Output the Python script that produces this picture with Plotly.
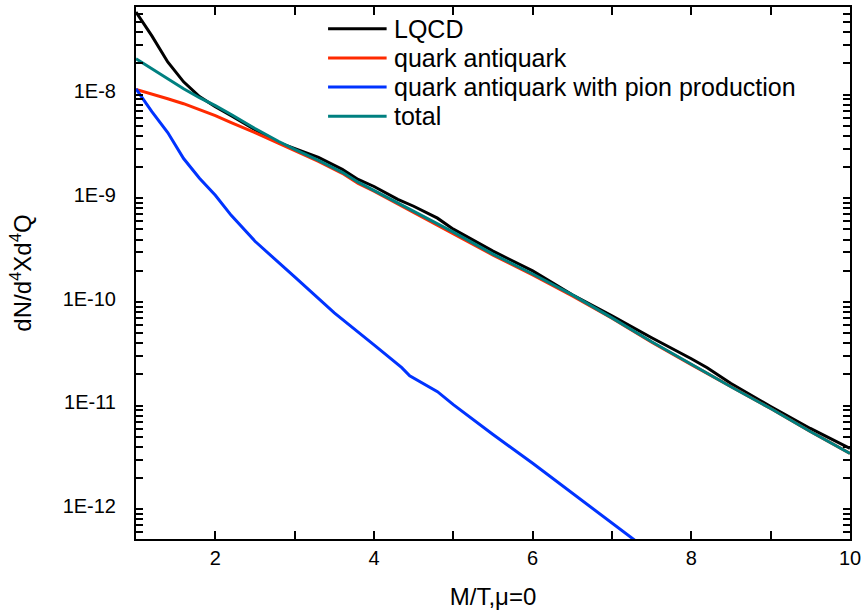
import plotly.graph_objects as go

# ---- data ----
x_lqcd = [1.0, 1.2, 1.4, 1.6, 1.8, 2.0, 2.2, 2.5, 2.8, 3.0, 3.3, 3.6, 3.8, 4.0, 4.3, 4.5,
          4.8, 5.0, 5.5, 6.0, 6.5, 7.0, 7.5, 8.0, 8.2, 8.5, 9.0, 9.5, 10.0]
y_lqcd = [6.28e-8, 3.69e-8, 2.07e-8, 1.33e-8, 9.57e-9, 7.66e-9, 6.28e-9, 4.60e-9, 3.45e-9,
          3.03e-9, 2.48e-9, 1.90e-9, 1.52e-9, 1.30e-9, 9.77e-10, 8.38e-10, 6.43e-10, 5.04e-10,
          3.09e-10, 1.99e-10, 1.17e-10, 7.33e-11, 4.51e-11, 2.83e-11, 2.32e-11, 1.63e-11,
          9.77e-12, 6.01e-12, 3.86e-12]

x_model = [1.0, 1.2, 1.4, 1.6, 1.8, 2.0, 2.2, 2.5, 2.8, 3.0, 3.3, 3.6, 3.8, 4.0, 4.5, 5.0,
           5.5, 6.0, 6.5, 7.0, 7.5, 8.0, 8.5, 9.0, 9.5, 10.0]
y_qq = [1.12e-8, 1.02e-8, 9.14e-9, 8.18e-9, 7.18e-9, 6.28e-9, 5.38e-9, 4.31e-9, 3.38e-9,
        2.89e-9, 2.27e-9, 1.74e-9, 1.39e-9, 1.17e-9, 7.33e-10, 4.60e-10, 2.83e-10, 1.82e-10,
        1.14e-10, 6.95e-11, 4.08e-11, 2.48e-11, 1.52e-11, 9.35e-12, 5.62e-12, 3.45e-12]
y_total = [2.22e-8, 1.78e-8, 1.43e-8, 1.14e-8, 9.35e-9, 7.83e-9, 6.43e-9, 4.71e-9, 3.53e-9,
           2.96e-9, 2.32e-9, 1.78e-9, 1.43e-9, 1.19e-9, 7.50e-10, 4.71e-10, 2.89e-10, 1.86e-10,
           1.17e-10, 7.02e-11, 4.12e-11, 2.48e-11, 1.52e-11, 9.35e-12, 5.62e-12, 3.45e-12]

x_pion = [1.0, 1.2, 1.4, 1.6, 1.8, 2.0, 2.2, 2.5, 3.0, 3.5, 4.0, 4.2, 4.35, 4.45, 4.6, 4.8,
          5.0, 5.5, 6.0, 6.5, 7.0, 7.5]
y_pion = [1.14e-8, 6.85e-9, 4.31e-9, 2.42e-9, 1.56e-9, 1.07e-9, 6.85e-10, 3.85e-10, 1.74e-10,
          7.83e-11, 3.85e-11, 2.89e-11, 2.32e-11, 1.94e-11, 1.66e-11, 1.36e-11, 1.02e-11,
          5.26e-12, 2.77e-12, 1.43e-12, 7.33e-13, 3.78e-13]

names = ["LQCD", "quark antiquark", "quark antiquark with pion production", "total"]
colors = ["#000000", "#ff2a00", "#0033ff", "#008080"]

# decade tick labels as printed in the reference (plotly's default SI text -> label)
y_default_text = ["1p", "10p", "100p", "1n", "10n"]
y_ticktext = ["1E-12", "1E-11", "1E-10", "1E-9", "1E-8"]

FONT = "Liberation Sans, Arial, sans-serif"

fig = go.Figure()
series = [(x_lqcd, y_lqcd), (x_model, y_qq), (x_pion, y_pion), (x_model, y_total)]
for (xs, ys), nm, c in zip(series, names, colors):
    fig.add_trace(go.Scatter(x=xs, y=ys, mode="lines", name=nm,
                             line=dict(color=c, width=3), showlegend=False))

# manual legend (line sample + text) in paper coordinates
leg_y0 = 0.959
leg_dy = 0.0548
for i, (nm, c) in enumerate(zip(names, colors)):
    yy = leg_y0 - i * leg_dy
    fig.add_shape(type="line", xref="paper", yref="paper",
                  x0=0.269, x1=0.351, y0=yy, y1=yy, line=dict(color=c, width=3))
    fig.add_annotation(xref="paper", yref="paper", x=0.358, y=yy, text=nm,
                       showarrow=False, xanchor="left", yanchor="middle",
                       font=dict(family=FONT, size=25, color="black"))

y_alias = {d: t for d, t in zip(y_default_text, y_ticktext)}
y_alias.update({str(k): " " for k in range(2, 10)})

fig.update_layout(
    width=866, height=614,
    margin=dict(l=136, r=13, t=5, b=75),
    paper_bgcolor="white", plot_bgcolor="white",
    font=dict(family=FONT, size=20, color="black"),
    xaxis=dict(range=[1, 10], dtick=1, tick0=0,
               ticks="inside", ticklen=8, tickwidth=2, tickcolor="black",
               showline=True, linewidth=2, linecolor="black",
               mirror="allticks", showgrid=False, zeroline=False,
               labelalias={"1": " ", "3": " ", "5": " ", "7": " ", "9": " "},
               tickfont=dict(size=20),
               title=dict(text="M/T,μ=0", font=dict(size=24), standoff=20)),
    yaxis=dict(type="log", range=[-12.288, -7.154], dtick="D1",
               ticks="inside", ticklen=7, tickwidth=1.5, tickcolor="black",
               showline=True, linewidth=2, linecolor="black", mirror="allticks",
               showgrid=False, zeroline=False, ticklabelstandoff=9,
               labelalias=y_alias,
               tickfont=dict(size=20),
               title=dict(text="dN/d<sup>4</sup>Xd<sup>4</sup>Q", font=dict(size=24),
                          standoff=24)),
)

fig.write_html("out.html", post_script="document.body.style.margin='0';",
               config={"displayModeBar": False})
